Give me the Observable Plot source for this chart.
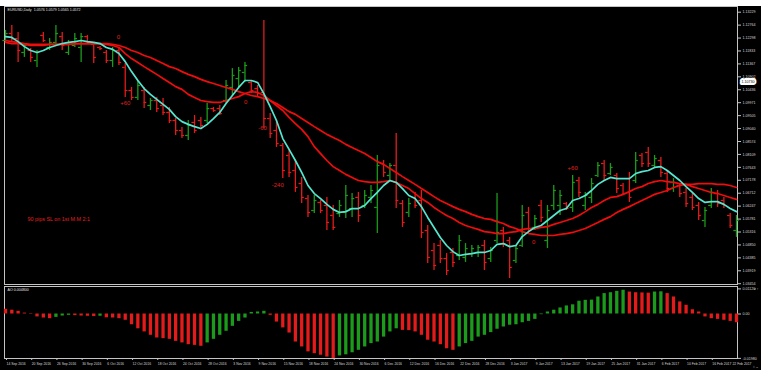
<!DOCTYPE html>
<html><head><meta charset="utf-8">
<script src="https://cdn.jsdelivr.net/npm/d3@7"></script>
<script src="https://cdn.jsdelivr.net/npm/@observablehq/plot@0.6"></script>
<style>
html,body{margin:0;padding:0;background:#fff;}
#wrap{position:relative;width:761px;height:378px;overflow:hidden;background:#fff;}
#bg{position:absolute;left:0;top:6px;width:761px;height:364px;background:#000;}
#main,#ao{position:absolute;left:0;}
#main{top:0px;}
#ao{top:284px;}
</style></head>
<body>
<div id="wrap"><div id="bg"></div><div id="main"></div><div id="ao"></div></div>
<script>
// ---- data ----
const headerText = "EURUSD,Daily  1.0576 1.0579 1.0565 1.0572";
const aoTitle = "AO 0.004800";

const opens = [1.1221,1.1246,1.1228,1.1178,1.1185,1.1149,1.1239,1.1196,1.1214,1.1235,
1.1178,1.1203,1.1196,1.1235,1.1207,1.1196,1.1178,1.1149,1.1185,1.1124,
1.1041,1.1016,1.1041,1.0987,1.1005,1.0987,1.0962,1.0933,1.0897,1.0879,
1.0926,1.0933,1.0933,1.0976,1.0976,1.1005,1.1052,1.1084,1.1106,1.1070,
1.1048,1.1034,1.0940,1.0897,1.0843,1.0807,1.0753,1.0706,1.0652,1.0609,
1.0638,1.0627,1.0591,1.0598,1.0602,1.0616,1.0656,1.0627,1.0656,1.0620,
1.0778,1.0735,1.0771,1.0634,1.0602,1.0656,1.0645,1.0537,1.0465,1.0483,
1.0436,1.0458,1.0447,1.0440,1.0454,1.0458,1.0483,1.0436,1.0501,1.0537,
1.0501,1.0429,1.0483,1.0602,1.0548,1.0627,1.0501,1.0627,1.0627,1.0634,
1.0620,1.0717,1.0627,1.0656,1.0735,1.0778,1.0742,1.0735,1.0699,1.0724,
1.0717,1.0807,1.0818,1.0771,1.0789,1.0742,1.0688,1.0699,1.0674,1.0656,
1.0627,1.0573,1.0627,1.0670,1.0645,1.0591,1.0537];
const highs = [1.1257,1.1275,1.1250,1.1210,1.1192,1.1185,1.1250,1.1228,1.1275,1.1250,
1.1221,1.1246,1.1246,1.1239,1.1214,1.1199,1.1185,1.1196,1.1192,1.1138,
1.1052,1.1077,1.1052,1.1012,1.1016,1.1012,1.0980,1.0940,1.0908,1.0933,
1.0951,1.0944,1.0994,1.0980,1.0987,1.1077,1.1120,1.1124,1.1142,1.1077,
1.1059,1.1293,1.0958,1.0933,1.0850,1.0825,1.0789,1.0728,1.0663,1.0663,
1.0645,1.0656,1.0627,1.0645,1.0699,1.0670,1.0674,1.0681,1.0699,1.0807,
1.0789,1.0778,1.0886,1.0645,1.0652,1.0674,1.0681,1.0555,1.0490,1.0501,
1.0454,1.0472,1.0519,1.0490,1.0483,1.0483,1.0501,1.0476,1.0670,1.0548,
1.0512,1.0483,1.0627,1.0620,1.0591,1.0645,1.0627,1.0699,1.0681,1.0638,
1.0735,1.0728,1.0674,1.0724,1.0782,1.0789,1.0778,1.0742,1.0706,1.0746,
1.0818,1.0814,1.0836,1.0807,1.0800,1.0753,1.0724,1.0706,1.0688,1.0670,
1.0638,1.0620,1.0688,1.0681,1.0656,1.0598,1.0591];
const lows = [1.1214,1.1214,1.1142,1.1160,1.1142,1.1124,1.1214,1.1185,1.1203,1.1185,
1.1167,1.1196,1.1142,1.1210,1.1138,1.1185,1.1138,1.1124,1.1131,1.1016,
1.1005,1.1005,1.0976,1.0969,1.0962,1.0951,1.0922,1.0879,1.0868,1.0861,
1.0886,1.0908,1.0922,1.0962,1.0951,1.0994,1.1023,1.1052,1.1070,1.1030,
1.1016,1.0904,1.0868,1.0836,1.0724,1.0728,1.0674,1.0634,1.0584,1.0598,
1.0598,1.0537,1.0537,1.0584,1.0580,1.0584,1.0566,1.0616,1.0634,1.0526,
1.0728,1.0717,1.0616,1.0548,1.0584,1.0616,1.0508,1.0418,1.0393,1.0418,
1.0375,1.0404,1.0429,1.0422,1.0440,1.0440,1.0393,1.0422,1.0490,1.0476,
1.0364,1.0418,1.0476,1.0526,1.0537,1.0566,1.0472,1.0609,1.0591,1.0609,
1.0602,1.0656,1.0609,1.0634,1.0728,1.0717,1.0735,1.0670,1.0663,1.0638,
1.0706,1.0764,1.0764,1.0760,1.0728,1.0674,1.0674,1.0656,1.0620,1.0609,
1.0573,1.0548,1.0616,1.0620,1.0616,1.0544,1.0512];
const closes = [1.1246,1.1228,1.1185,1.1203,1.1160,1.1178,1.1221,1.1214,1.1246,1.1203,
1.1207,1.1228,1.1235,1.1214,1.1160,1.1192,1.1149,1.1185,1.1142,1.1041,
1.1016,1.1059,1.0998,1.1005,1.0976,1.0962,1.0933,1.0897,1.0879,1.0915,
1.0897,1.0915,1.0976,1.0969,1.0958,1.1059,1.1095,1.1113,1.1131,1.1041,
1.1030,1.0940,1.0886,1.0850,1.0753,1.0746,1.0692,1.0656,1.0602,1.0645,
1.0609,1.0566,1.0548,1.0627,1.0663,1.0652,1.0591,1.0663,1.0681,1.0771,
1.0746,1.0771,1.0645,1.0566,1.0634,1.0627,1.0530,1.0440,1.0411,1.0436,
1.0393,1.0422,1.0501,1.0472,1.0472,1.0476,1.0422,1.0465,1.0530,1.0490,
1.0404,1.0472,1.0591,1.0544,1.0580,1.0584,1.0609,1.0681,1.0663,1.0616,
1.0710,1.0674,1.0663,1.0706,1.0771,1.0735,1.0764,1.0688,1.0670,1.0656,
1.0789,1.0778,1.0778,1.0796,1.0746,1.0688,1.0710,1.0670,1.0634,1.0620,
1.0591,1.0609,1.0674,1.0634,1.0627,1.0555,1.0573];

const maCyan = [1.1235,1.1232,1.1217,1.1199,1.1185,1.1178,1.1185,1.1196,1.1203,1.1210,
1.1214,1.1217,1.1221,1.1217,1.1214,1.1210,1.1196,1.1189,1.1174,1.1145,
1.1109,1.1077,1.1048,1.1027,1.1009,1.0991,1.0973,1.0947,1.0929,1.0919,
1.0911,1.0904,1.0919,1.0940,1.0962,1.0994,1.1023,1.1052,1.1077,1.1077,
1.1070,1.1030,1.0983,1.0933,1.0868,1.0829,1.0789,1.0746,1.0699,1.0670,
1.0652,1.0631,1.0613,1.0602,1.0605,1.0616,1.0616,1.0627,1.0652,1.0674,
1.0699,1.0717,1.0710,1.0688,1.0663,1.0652,1.0623,1.0584,1.0548,1.0512,
1.0483,1.0461,1.0447,1.0451,1.0454,1.0458,1.0458,1.0465,1.0487,1.0490,
1.0479,1.0483,1.0515,1.0533,1.0548,1.0555,1.0573,1.0591,1.0609,1.0616,
1.0645,1.0652,1.0663,1.0681,1.0703,1.0717,1.0728,1.0724,1.0724,1.0724,
1.0742,1.0749,1.0753,1.0764,1.0767,1.0753,1.0735,1.0717,1.0695,1.0674,
1.0652,1.0638,1.0641,1.0641,1.0631,1.0616,1.0605];
const maFast = [1.1221,1.1217,1.1214,1.1210,1.1207,1.1207,1.1207,1.1207,1.1207,1.1207,
1.1207,1.1210,1.1210,1.1210,1.1210,1.1210,1.1207,1.1203,1.1196,1.1174,
1.1156,1.1142,1.1127,1.1113,1.1099,1.1084,1.1070,1.1055,1.1045,1.1027,
1.1016,1.1005,1.1001,1.0998,1.0998,1.1005,1.1012,1.1019,1.1030,1.1037,
1.1034,1.1023,1.1005,1.0987,1.0969,1.0944,1.0922,1.0901,1.0875,1.0839,
1.0814,1.0789,1.0767,1.0753,1.0739,1.0728,1.0717,1.0713,1.0710,1.0710,
1.0713,1.0717,1.0710,1.0699,1.0688,1.0670,1.0652,1.0638,1.0620,1.0605,
1.0591,1.0580,1.0566,1.0555,1.0548,1.0541,1.0533,1.0530,1.0526,1.0526,
1.0530,1.0533,1.0541,1.0544,1.0544,1.0548,1.0551,1.0559,1.0566,1.0573,
1.0580,1.0591,1.0605,1.0620,1.0631,1.0645,1.0656,1.0659,1.0667,1.0677,
1.0688,1.0695,1.0706,1.0713,1.0717,1.0713,1.0710,1.0706,1.0703,1.0695,
1.0688,1.0681,1.0674,1.0670,1.0663,1.0656,1.0649];
const maSlow = [1.1214,1.1210,1.1210,1.1207,1.1203,1.1203,1.1203,1.1207,1.1207,1.1207,
1.1207,1.1210,1.1210,1.1210,1.1210,1.1210,1.1210,1.1207,1.1203,1.1196,
1.1185,1.1178,1.1167,1.1160,1.1149,1.1138,1.1127,1.1120,1.1109,1.1099,
1.1091,1.1081,1.1073,1.1066,1.1059,1.1052,1.1045,1.1037,1.1030,1.1023,
1.1019,1.1012,1.1005,1.0994,1.0980,1.0965,1.0955,1.0940,1.0926,1.0911,
1.0897,1.0883,1.0872,1.0861,1.0847,1.0836,1.0825,1.0814,1.0800,1.0785,
1.0775,1.0760,1.0746,1.0731,1.0717,1.0703,1.0688,1.0674,1.0659,1.0645,
1.0634,1.0623,1.0613,1.0605,1.0595,1.0587,1.0580,1.0577,1.0569,1.0562,
1.0551,1.0544,1.0533,1.0526,1.0523,1.0519,1.0519,1.0519,1.0523,1.0526,
1.0530,1.0537,1.0544,1.0555,1.0566,1.0577,1.0587,1.0602,1.0613,1.0623,
1.0634,1.0645,1.0656,1.0667,1.0674,1.0681,1.0692,1.0699,1.0703,1.0703,
1.0706,1.0706,1.0706,1.0703,1.0703,1.0699,1.0692];

const aoValues = [0.0021,0.0017,0.0012,0.0004,-0.0002,-0.0013,-0.0018,-0.0021,-0.0015,-0.0009,
-0.0006,-0.0007,-0.0009,-0.0010,-0.0011,-0.0010,-0.0017,-0.0018,-0.0021,-0.0028,
-0.0048,-0.0066,-0.0080,-0.0095,-0.0107,-0.0110,-0.0113,-0.0122,-0.0129,-0.0137,
-0.0140,-0.0144,-0.0129,-0.0113,-0.0095,-0.0077,-0.0055,-0.0033,-0.0018,0.0007,
0.0009,0.0012,-0.0006,-0.0036,-0.0062,-0.0085,-0.0125,-0.0147,-0.0169,-0.0177,
-0.0184,-0.0192,-0.0199,-0.0187,-0.0182,-0.0173,-0.0162,-0.0147,-0.0132,-0.0125,
-0.0103,-0.0080,-0.0066,-0.0073,-0.0074,-0.0080,-0.0095,-0.0117,-0.0125,-0.0137,
-0.0155,-0.0162,-0.0147,-0.0132,-0.0122,-0.0103,-0.0095,-0.0083,-0.0068,-0.0058,
-0.0050,-0.0048,-0.0039,-0.0033,-0.0024,-0.0003,0.0009,0.0017,0.0027,0.0036,
0.0041,0.0057,0.0061,0.0062,0.0076,0.0091,0.0095,0.0101,0.0106,0.0098,
0.0095,0.0094,0.0093,0.0098,0.0099,0.0091,0.0076,0.0054,0.0039,0.0019,
0.0009,-0.0013,-0.0021,-0.0024,-0.0028,-0.0033,-0.0039];

const priceTicks = [1.13229,1.12764,1.12298,1.11833,1.11367,1.10902,1.10436,1.09971,1.09505,1.09040,
1.08574,1.08109,1.07643,1.07178,1.06712,1.06247,1.05781,1.05316,1.04850,1.04385,1.03919,1.03454];
const markerPrice = 1.10730;

const aoTickValues = [0.0112, 0, -0.0198];
const aoTickLabels = ["0.01120", "0.00", "-0.01980"];

const xLabelIndex = [0,4,8,12,16,20,24,28,32,36,40,44,48,52,56,60,64,68,72,76,80,84,88,92,96,100,104,108,112,116];
const xLabels = ["14 Sep 2016","20 Sep 2016","26 Sep 2016","30 Sep 2016","6 Oct 2016","12 Oct 2016","18 Oct 2016","24 Oct 2016","28 Oct 2016","3 Nov 2016",
"9 Nov 2016","15 Nov 2016","18 Nov 2016","24 Nov 2016","30 Nov 2016","6 Dec 2016","12 Dec 2016","16 Dec 2016","22 Dec 2016","28 Dec 2016",
"3 Jan 2017","9 Jan 2017","13 Jan 2017","19 Jan 2017","25 Jan 2017","31 Jan 2017","6 Feb 2017","10 Feb 2017","16 Feb 2017","22 Feb 2017"];

const noteTexts = ["0","+60","0","-60","-240","+60","0"];
const noteIndex = [17.9,19.0,38.1,40.8,43.2,90.0,83.8];
const notePrice = [1.1232,1.0994,1.0998,1.0904,1.0699,1.0760,1.0494];
const slText = "90 pips SL on 1st M.M 2:1";
const slIndex = 3.5;
const slPrice = 1.0577;

// ---- styles ----
const RED = "#e31b1b", GREEN = "#1c9a1c", MARED = "#ee0c0c", CYAN = "#55e6cf";
const FONT = "'Liberation Sans', Arial, sans-serif";
const TXT = 3.6;
const XTXT = 3.4;

const bars = opens.map((o, i) => ({i, open: o, high: highs[i], low: lows[i], close: closes[i]}));
const barColor = d => d.close > d.open ? GREEN : RED;
const series = arr => arr.map((v, i) => ({i, v}));
const notes = noteTexts.map((t, k) => ({t, i: noteIndex[k], p: notePrice[k]}));
const aoRows = aoValues.map((v, i) => ({i, v, c: (i > 0 && v > aoValues[i - 1]) ? GREEN : RED}));
const xDomain = [-0.16, 116.16];

const main = Plot.plot({
  width: 761, height: 284, marginTop: 6, marginBottom: 0, marginLeft: 4, marginRight: 24,
  style: {background: "transparent", color: "#d8d8d8", fontSize: TXT + "px", fontFamily: FONT, overflow: "visible"},
  x: {domain: xDomain, axis: null},
  y: {domain: [1.03426, 1.13434]},
  marks: [
    Plot.frame({stroke: "#c4c4c4", strokeWidth: 1}),
    Plot.axisY({anchor: "right", ticks: priceTicks, tickFormat: d => d.toFixed(5), tickSize: 3, tickPadding: 2, fontSize: TXT, fill: "#d8d8d8", stroke: "#c4c4c4"}),
    Plot.ruleX(bars, {x: "i", y1: "low", y2: "high", stroke: barColor, strokeWidth: 1.3}),
    Plot.ruleY(bars, {y: "open", x1: d => d.i - 0.42, x2: "i", stroke: barColor, strokeWidth: 1.2}),
    Plot.ruleY(bars, {y: "close", x1: "i", x2: d => d.i + 0.42, stroke: barColor, strokeWidth: 1.2}),
    Plot.line(series(maSlow), {x: "i", y: "v", stroke: MARED, strokeWidth: 1.7}),
    Plot.line(series(maFast), {x: "i", y: "v", stroke: MARED, strokeWidth: 1.7}),
    Plot.line(series(maCyan), {x: "i", y: "v", stroke: CYAN, strokeWidth: 1.7}),
    Plot.text(notes, {x: "i", y: "p", text: "t", fill: "#e02020", fontSize: 6}),
    Plot.text([slText], {x: () => slIndex, y: () => slPrice, text: d => d, textAnchor: "start", fill: "#e02020", fontSize: 5.4}),
    Plot.text([headerText], {frameAnchor: "top-left", dx: 3, dy: 2, lineAnchor: "top", fill: "#e8e8e8", fontSize: TXT}),
    Plot.text([markerPrice], {y: d => d, frameAnchor: "right", dx: 4, textAnchor: "start", text: d => d.toFixed(5), fill: "#000", stroke: "#fff", strokeWidth: 4, paintOrder: "stroke", fontSize: TXT})
  ]
});
document.getElementById("main").appendChild(main);

const aoPlot = Plot.plot({
  width: 761, height: 86, marginTop: 2, marginBottom: 12, marginLeft: 4, marginRight: 24,
  style: {background: "transparent", color: "#d8d8d8", fontSize: TXT + "px", fontFamily: FONT, overflow: "visible"},
  x: {domain: xDomain},
  y: {domain: [-0.01985, 0.01227]},
  marks: [
    Plot.frame({stroke: "#c4c4c4", strokeWidth: 1}),
    Plot.ruleX(aoRows, {x: "i", y1: 0, y2: "v", stroke: "c", strokeWidth: 3.3}),
    Plot.axisY({anchor: "right", ticks: aoTickValues, tickFormat: d => aoTickLabels[aoTickValues.indexOf(d)], tickSize: 3, tickPadding: 2, fontSize: TXT, fill: "#d8d8d8", stroke: "#c4c4c4"}),
    Plot.axisX({ticks: xLabelIndex.slice(0, -1), tickFormat: d => xLabels[xLabelIndex.indexOf(d)], textAnchor: "start", tickSize: 2, tickPadding: 2, dx: 1, fontSize: XTXT, fill: "#d8d8d8", stroke: "#c4c4c4"}),
    Plot.text([{i: xLabelIndex[xLabelIndex.length - 1], t: xLabels[xLabels.length - 1]}], {x: "i", text: "t", frameAnchor: "bottom", lineAnchor: "top", dy: 4, textAnchor: "end", dx: 15, fill: "#d8d8d8", fontSize: XTXT}),
    Plot.text([aoTitle], {frameAnchor: "top-left", dx: 3, dy: 2, lineAnchor: "top", fill: "#e8e8e8", fontSize: TXT})
  ]
});
document.getElementById("ao").appendChild(aoPlot);
</script>
</body></html>
